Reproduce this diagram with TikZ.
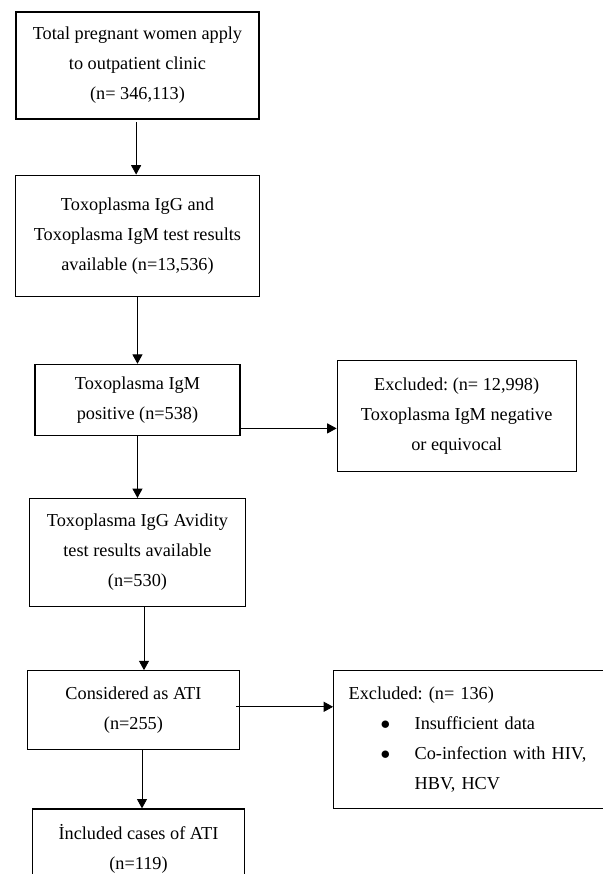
\documentclass[tikz,border=0pt]{standalone}
\usepackage{fontspec}
\setmainfont{Liberation Serif}
\usetikzlibrary{arrows.meta,positioning}
\frenchspacing

\begin{document}
\begin{tikzpicture}[
    box/.style={draw, line width=0.9pt, align=center, inner sep=0pt,
        font=\fontsize{13.7pt}{22.5pt}\selectfont},
    arr/.style={-{Triangle[length=7pt,width=7.5pt]}, line width=0.6pt}
  ]
    \useasboundingbox (-103.1pt,49.1pt) rectangle (349.1pt,-606.4pt);

    \node[box, minimum width=182.25pt, minimum height=80.25pt] (total) at (0,0)
        {Total pregnant women apply\\to outpatient clinic\\(n= 346,113)};
    \node[box, below=41.25pt of total, minimum width=183pt, minimum height=90.75pt] (tests)
        {Toxoplasma IgG and\\Toxoplasma IgM test results\\available (n=13,536)};
    \node[box, below=50.25pt of tests, minimum width=153.75pt, minimum height=53.25pt] (igm)
        {Toxoplasma IgM\\positive (n=538)};
    \node[box, below=46.5pt of igm, minimum width=162pt, minimum height=81pt] (avid)
        {Toxoplasma IgG Avidity\\test results available\\(n=530)};
    \node[box, below=47.25pt of avid, xshift=-3pt, minimum width=159pt, minimum height=59.25pt] (ati)
        {Considered as ATI\\(n=255)};
    \node[box, below=43.5pt of ati, xshift=3.75pt, minimum width=159pt, minimum height=60pt] (incl)
        {İncluded cases of ATI\\(n=119)};

    \node[box, right=72pt of igm, yshift=-12pt, minimum width=179.25pt, minimum height=83.25pt] (exigm)
        {Excluded: (n= 12,998)\\Toxoplasma IgM negative\\or equivocal};
    \node[box, right=69.75pt of ati, yshift=-22.1pt, align=left, text width=200pt,
          inner xsep=11.25pt, minimum height=103.5pt] (exati)
        {Excluded: (n= 136)\\
         \hspace*{24pt}\makebox[25.5pt][l]{$\bullet$}Insufficient data\\
         \hspace*{24pt}\makebox[25.5pt][l]{$\bullet$}Co-infection with HIV,\\
         \hspace*{49.5pt}HBV, HCV};

    \draw[arr] ([xshift=-1pt,yshift=-2pt]total.south) -- ([xshift=-1pt]total.south |- tests.north);
    \draw[arr] (tests.south) -- (tests.south |- igm.north);
    \draw[arr] (igm.south) -- (igm.south |- avid.north);
    \draw[arr] ([xshift=4.9pt]avid.south) -- ([xshift=4.9pt]avid.south |- ati.north);
    \draw[arr] ([xshift=6.4pt]ati.south) -- ([xshift=6.4pt]ati.south |- incl.north);
    \draw[arr] ([yshift=-21.4pt]igm.east) -- ([yshift=-21.4pt]igm.east -| exigm.west);
    \draw[arr] ([xshift=-3pt,yshift=2.6pt]ati.east) -- ([yshift=2.6pt]ati.east -| exati.west);
\end{tikzpicture}
\end{document}
